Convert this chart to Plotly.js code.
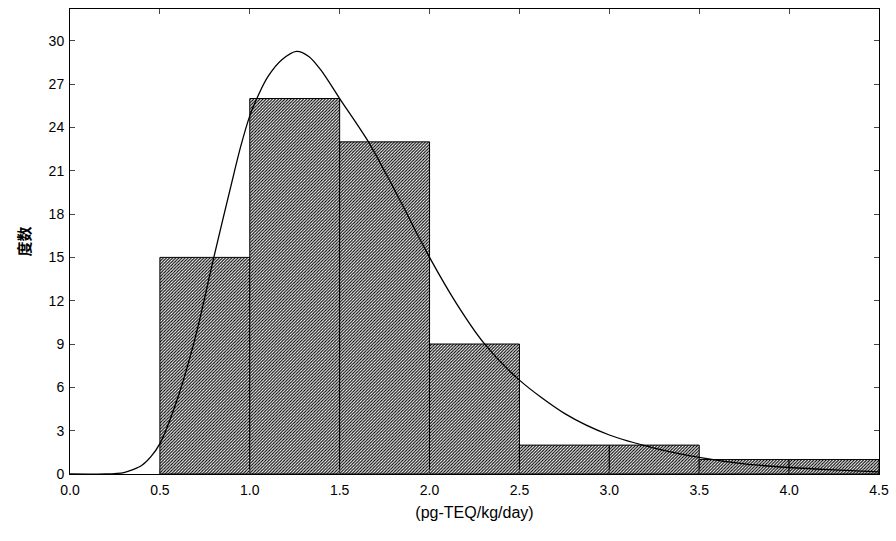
<!DOCTYPE html>
<html>
<head>
<meta charset="utf-8">
<script src="https://cdn.plot.ly/plotly-3.0.1.min.js"></script>
<style>body{margin:0;background:#fff}#graph{width:896px;height:541px}</style>
</head>
<body>
<div id="graph"></div>
<script>
// histogram bins (pg-TEQ/kg/day)
var binCenters = [0.75, 1.25, 1.75, 2.25, 2.75, 3.25, 3.75, 4.25];
var binCounts = [15, 26, 23, 9, 2, 2, 1, 1];

// fitted curve
var curveX = [0, 0.2, 0.3, 0.35, 0.4, 0.45, 0.5, 0.6, 0.7, 0.8, 0.9, 0.95, 1.0, 1.05, 1.1, 1.18, 1.26, 1.33, 1.4, 1.5, 1.66, 1.8, 2.0, 2.15, 2.3, 2.5, 2.75, 3.0, 3.25, 3.5, 3.75, 4.0, 4.25, 4.5];
var curveY = [0, 0, 0.1, 0.3, 0.6, 1.2, 2.1, 5.3, 9.6, 15, 20.2, 22.7, 24.8, 26.3, 27.5, 28.7, 29.27, 28.9, 27.9, 26, 23, 19.8, 15, 11.8, 9.1, 6.5, 4.2, 2.7, 1.8, 1.15, 0.7, 0.45, 0.28, 0.15];

var bars = {
	x: binCenters,
	y: binCounts,
	type: 'bar',
	width: 0.5,
	marker: {
		color: '#fff',
		pattern: {shape: '/', size: 2.2, solidity: 0.5, fgcolor: '#000', bgcolor: '#fff'},
		line: {color: '#000', width: 1}
	},
	hoverinfo: 'none'
};

var curve = {
	x: curveX,
	y: curveY,
	type: 'scatter',
	mode: 'lines',
	line: {color: '#000', width: 1.3, shape: 'spline', smoothing: 0.8},
	hoverinfo: 'none'
};

var layout = {
	width: 896,
	height: 541,
	margin: {l: 70, r: 17, t: 9, b: 67},
	showlegend: false,
	bargap: 0,
	font: {family: 'Arial, "Liberation Sans", "Noto Sans CJK SC"', size: 13, color: '#000'},
	xaxis: {
		range: [0, 4.5], dtick: 0.5, tickformat: '.1f',
		ticks: 'inside', ticklen: 5, showline: true, mirror: 'ticks',
		linecolor: '#000', showgrid: false, zeroline: false,
		tickfont: {size: 14}, ticklabelstandoff: 3,
		title: {text: '(pg-TEQ/kg/day)', standoff: 10}
	},
	yaxis: {
		range: [0, 32.2], dtick: 3,
		ticks: 'inside', ticklen: 5, showline: true, mirror: 'ticks',
		linecolor: '#000', showgrid: false, zeroline: false,
		tickfont: {size: 14}, ticklabelstandoff: 2,
		title: {text: '<b>度数</b>', font: {family: '"Noto Sans CJK SC"', size: 15}, standoff: 14}
	}
};

Plotly.newPlot('graph', [bars, curve], layout, {displayModeBar: false, staticPlot: true});
</script>
</body>
</html>
